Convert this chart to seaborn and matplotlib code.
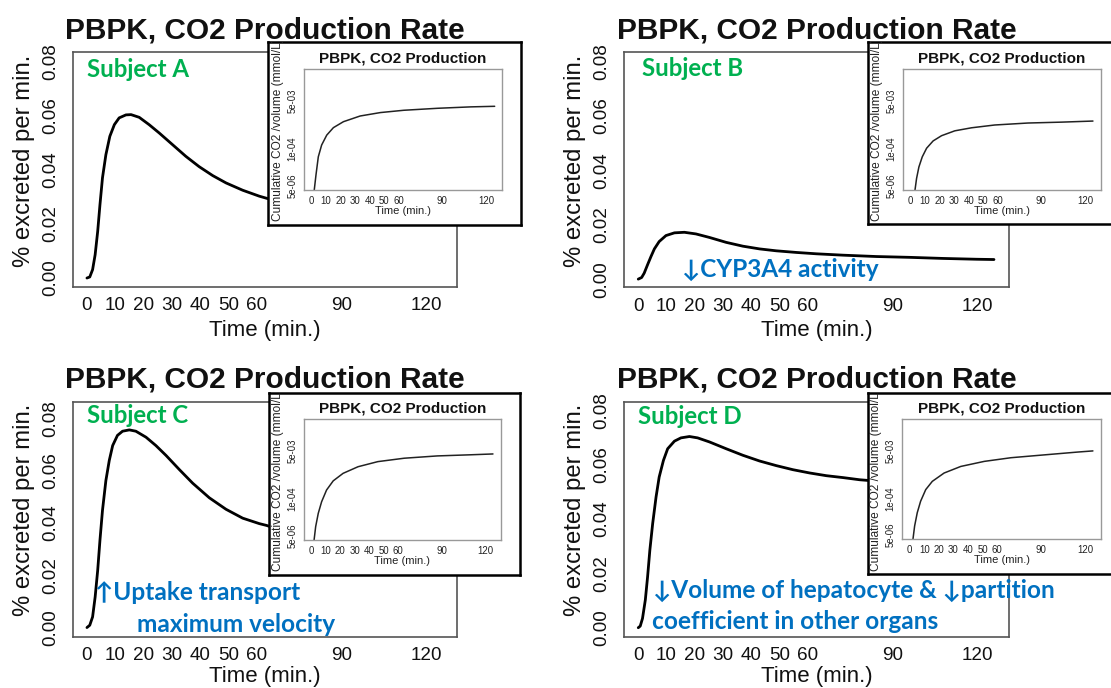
import matplotlib
matplotlib.use("Agg")
import matplotlib.pyplot as plt
from matplotlib.ticker import NullLocator
import seaborn as sns

# ---------------- data ----------------
time_A = [0, 1, 2, 2.9, 3.8, 4.6, 5.5, 6.7, 8.1, 9.7, 11.4, 13.8, 15.6, 18.5, 22, 25.6, 30.3,
          35, 39.7, 44.5, 49.2, 55.1, 61, 64, 70, 80, 90, 100, 110, 126]
rate_A = [0, 0.0004, 0.0031, 0.0086, 0.0172, 0.027, 0.037, 0.0455, 0.0523, 0.0566, 0.0591,
          0.0602, 0.0603, 0.0593, 0.0566, 0.0535, 0.0492, 0.0449, 0.0411, 0.0378, 0.0351,
          0.0324, 0.0302, 0.0293, 0.0278, 0.0258, 0.0243, 0.0232, 0.0224, 0.0215]

time_B = [0, 1.2, 2.1, 3.3, 4.5, 5.7, 7.4, 9.8, 12.8, 16.3, 20.4, 25.2, 31.1, 37, 42.9, 48.8,
          55.9, 63, 72.4, 84.2, 96, 107.8, 119.7, 125.8]
rate_B = [0, 0.0006, 0.0022, 0.0053, 0.0083, 0.0111, 0.0138, 0.016, 0.017, 0.0172, 0.0166,
          0.0153, 0.0135, 0.0121, 0.0111, 0.0104, 0.0098, 0.0093, 0.0088, 0.0083, 0.008,
          0.0076, 0.0073, 0.0072]

time_C = [0, 1, 2, 2.9, 3.8, 4.6, 5.5, 6.7, 7.9, 9.1, 10.8, 12.6, 15, 17.3, 20.9, 24.4, 28,
          32.7, 37.4, 43.3, 49.2, 55.1, 61, 63.6, 70, 80, 90, 100, 110, 126]
rate_C = [0, 0.0009, 0.0041, 0.0117, 0.0219, 0.0334, 0.0449, 0.0563, 0.064, 0.0697, 0.0736,
          0.0752, 0.0757, 0.0752, 0.0729, 0.0697, 0.0659, 0.0605, 0.0553, 0.0497, 0.0453,
          0.0419, 0.0398, 0.0391, 0.0367, 0.033, 0.030, 0.0275, 0.0255, 0.023]

time_D = [0, 0.7, 1.5, 2.5, 3.3, 4.1, 5.1, 6.3, 7.4, 8.9, 10.4, 12.8, 15.1, 18.1, 21, 25.2,
          31.1, 37, 42.9, 48.8, 54.7, 60.6, 66.5, 72.4, 78.3, 80.7, 90, 100, 110, 126]
rate_D = [0, 0.0006, 0.0034, 0.0102, 0.0187, 0.0285, 0.0383, 0.0481, 0.0554, 0.0615, 0.0658,
          0.0686, 0.0698, 0.0703, 0.0698, 0.0683, 0.0658, 0.0634, 0.0613, 0.0596, 0.0581,
          0.0569, 0.0559, 0.0552, 0.0544, 0.0542, 0.0532, 0.0522, 0.0513, 0.050]

# cumulative CO2 / volume (mmol/L) shown in the insets
cum_time_A = [1.5, 1.8, 3.0, 4.6, 6.9, 10.4, 15, 21.9, 33.4, 47.3, 63.4, 86.6, 109.6, 126]
cum_A = [1e-6, 3.5e-6, 1.2e-5, 5.2e-5, 1.35e-4, 3.0e-4, 5.5e-4, 8.9e-4, 1.41e-3, 1.86e-3,
         2.24e-3, 2.63e-3, 2.95e-3, 3.09e-3]
cum_time_B = [2.5, 3.0, 4.1, 5.7, 8, 11, 15.5, 21.3, 30.4, 41.9, 57.9, 80.8, 103.8, 125.5]
cum_B = [1e-6, 3.5e-6, 9.1e-6, 2.3e-5, 5.2e-5, 1.05e-4, 1.9e-4, 2.9e-4, 4.3e-4, 5.5e-4,
         6.9e-4, 8.1e-4, 8.7e-4, 9.5e-4]
cum_time_C = [1.7, 2.1, 3.2, 5, 7.3, 10.7, 15.3, 22.1, 32.4, 46, 64.2, 87, 109.8, 125.3]
cum_C = [1e-6, 3.5e-6, 1.05e-5, 3.1e-5, 7.9e-5, 2.04e-4, 4.3e-4, 7.9e-4, 1.35e-3, 2.04e-3,
         2.69e-3, 3.24e-3, 3.55e-3, 3.8e-3]
cum_time_D = [1.9, 2.3, 3.4, 5.2, 7.5, 11, 15.5, 23.6, 35, 51.1, 69.4, 92.3, 115.2, 125.5]
cum_D = [1e-6, 3.7e-6, 1.05e-5, 3.1e-5, 7.9e-5, 2.04e-4, 4.0e-4, 7.9e-4, 1.35e-3, 2.04e-3,
         2.75e-3, 3.47e-3, 4.37e-3, 4.79e-3]

subjects = ["Subject A", "Subject B", "Subject C", "Subject D"]
x_ticks = [0, 5, 10, 15, 20, 30, 40, 50, 60, 90, 120]
x_ticklabels = ["0", "", "10", "", "20", "30", "40", "50", "60", "90", "120"]
y_ticks = [0, 0.02, 0.04, 0.06, 0.08]
y_ticklabels = ["0.00", "0.02", "0.04", "0.06", "0.08"]
log_ticks = [5e-6, 1e-4, 5e-3]
log_ticklabels = ["5e-06", "1e-04", "5e-03"]
main_title = "PBPK, CO2 Production Rate"
inset_title = "PBPK, CO2 Production"
ylabel_main = "% excreted per min."
ylabel_inset = "Cumulative CO2 /volume (mmol/L)"
xlabel = "Time (min.)"

# ---------------- style ----------------
sns.set_style("white")
plt.rcParams["font.family"] = ["Liberation Sans", "DejaVu Sans"]

W, H = 1111, 688
fig = plt.figure(figsize=(W / 100, H / 100), dpi=100)
fig.patch.set_facecolor("white")


def rect(x0, y0, x1, y1):
    return [x0 / W, 1 - y1 / H, (x1 - x0) / W, (y1 - y0) / H]


GREEN = "#00B050"
BLUE = "#0070C0"
ANN_FONT = ["Lato", "DejaVu Sans"]

panels = [
    dict(t=time_A, v=rate_A, ct=cum_time_A, cv=cum_A,
         main=(72.7, 52.3, 457.3, 286.7), ylim=(-0.0032, 0.0833),
         box=(268.3, 42, 520.7, 225), inner=(304.3, 69, 502, 190),
         subj=(86.7, 76.7), xlab_off=49, notes=[]),
    dict(t=time_B, v=rate_B, ct=cum_time_B, cv=cum_B,
         main=(624, 52.3, 1008.8, 287.3), ylim=(-0.003, 0.0833),
         box=(868.3, 42.3, 1125, 224.3), inner=(903.3, 69.3, 1101, 190),
         subj=(641.7, 76), xlab_off=49, notes=[("\u2193CYP3A4 activity", 681.7, 276.7)]),
    dict(t=time_C, v=rate_C, ct=cum_time_C, cv=cum_C,
         main=(72.7, 401.7, 457.3, 636.7), ylim=(-0.0035, 0.0865),
         box=(268.7, 392.7, 520.3, 575), inner=(303.7, 419.3, 501.3, 540),
         subj=(86.7, 422.7), xlab_off=45.5,
         notes=[("\u2191Uptake transport", 95, 600), ("maximum velocity", 136.7, 631.7)]),
    dict(t=time_D, v=rate_D, ct=cum_time_D, cv=cum_D,
         main=(624, 401.7, 1008.8, 636.7), ylim=(-0.0033, 0.0831),
         box=(867.7, 392.7, 1125, 574.3), inner=(902.3, 419.3, 1101, 539.3),
         subj=(638.3, 424.3), xlab_off=45.5,
         notes=[("\u2193Volume of hepatocyte & \u2193partition", 652.7, 598.3),
                ("coefficient in other organs", 651.7, 629.3)]),
]

for i, p in enumerate(panels):
    mx0, my0, mx1, my1 = p["main"]
    ax = fig.add_axes(rect(*p["main"]))
    ax.set_facecolor("white")
    sns.lineplot(x=p["t"], y=p["v"], ax=ax, color="black", linewidth=2.0)
    ax.set_xlim(-5.04, 131.04)
    ax.set_ylim(*p["ylim"])
    ax.set_xticks(x_ticks)
    ax.set_xticklabels(x_ticklabels)
    ax.set_yticks(y_ticks)
    ax.set_yticklabels(y_ticklabels, rotation=90, va="center")
    ax.tick_params(axis="both", direction="out", length=3.3, width=1.0, color="#555555",
                   labelsize=13.6, labelcolor="#111111")
    ax.tick_params(axis="x", pad=4.3)
    ax.tick_params(axis="y", pad=6.5)
    for s in ax.spines.values():
        s.set_color("#555555")
        s.set_linewidth(1.2)
    ax.set_xlabel("")
    ax.set_ylabel("")
    ax.set_title(main_title, fontsize=21.5, fontweight="bold", pad=10, color="#111111")
    # axis labels
    fig.text(((mx0 + mx1) / 2) / W, 1 - (my1 + p["xlab_off"]) / H, xlabel, ha="center",
             va="baseline", fontsize=16, color="#111111")
    fig.text((mx0 - 48.7) / W, 1 - ((my0 + my1) / 2 - 9) / H, ylabel_main, ha="center",
             va="center", rotation=90, fontsize=17.2, color="#111111")
    # subject label and annotations
    sx, sy = p["subj"]
    fig.text(sx / W, 1 - sy / H, subjects[i], ha="left", va="baseline", fontsize=17.3,
             fontweight="bold", color=GREEN, family=ANN_FONT, zorder=5)
    for txt, nx, ny in p["notes"]:
        fig.text(nx / W, 1 - ny / H, txt, ha="left", va="baseline", fontsize=17.6,
                 fontweight="bold", color=BLUE, family=ANN_FONT, zorder=5)

    # inset frame box
    bx0, by0, bx1, by1 = p["box"]
    bax = fig.add_axes(rect(*p["box"]))
    bax.set_facecolor("white")
    bax.set_xticks([])
    bax.set_yticks([])
    for s in bax.spines.values():
        s.set_color("black")
        s.set_linewidth(1.8)
    ix0, iy0, ix1, iy1 = p["inner"]
    bax.text((ix0 - 26 - bx0) / (bx1 - bx0), (by1 - (iy0 + iy1) / 2) / (by1 - by0),
             ylabel_inset, transform=bax.transAxes, rotation=90, ha="center", va="center",
             fontsize=8.6, color="#222222", clip_on=True)

    # inset plot
    iax = fig.add_axes(rect(*p["inner"]))
    iax.set_facecolor("white")
    sns.lineplot(x=p["ct"], y=p["cv"], ax=iax, color="#222222", linewidth=1.1)
    iax.set_yscale("log")
    iax.set_xlim(-5.04, 131.04)
    iax.set_ylim(10 ** -5.45, 10 ** -1.2)
    iax.set_xticks(x_ticks)
    iax.set_xticklabels(x_ticklabels)
    iax.set_yticks(log_ticks)
    iax.set_yticklabels(log_ticklabels, rotation=90, va="center")
    iax.yaxis.set_minor_locator(NullLocator())
    iax.tick_params(axis="both", direction="out", length=2.2, width=0.8, color="#777777",
                    labelsize=6.9, labelcolor="#222222")
    iax.tick_params(axis="x", pad=1.8)
    iax.tick_params(axis="y", pad=2.5)
    for s in iax.spines.values():
        s.set_color("#999999")
        s.set_linewidth(1.0)
    iax.set_xlabel("")
    iax.set_ylabel("")
    iax.set_title(inset_title, fontsize=11, fontweight="bold", pad=5, color="#111111")
    iax.text(0.5, -20.7 / (iy1 - iy0), xlabel, transform=iax.transAxes, ha="center",
             va="center", fontsize=8, color="#222222")

fig.savefig("out.png", dpi=100, facecolor="white")
